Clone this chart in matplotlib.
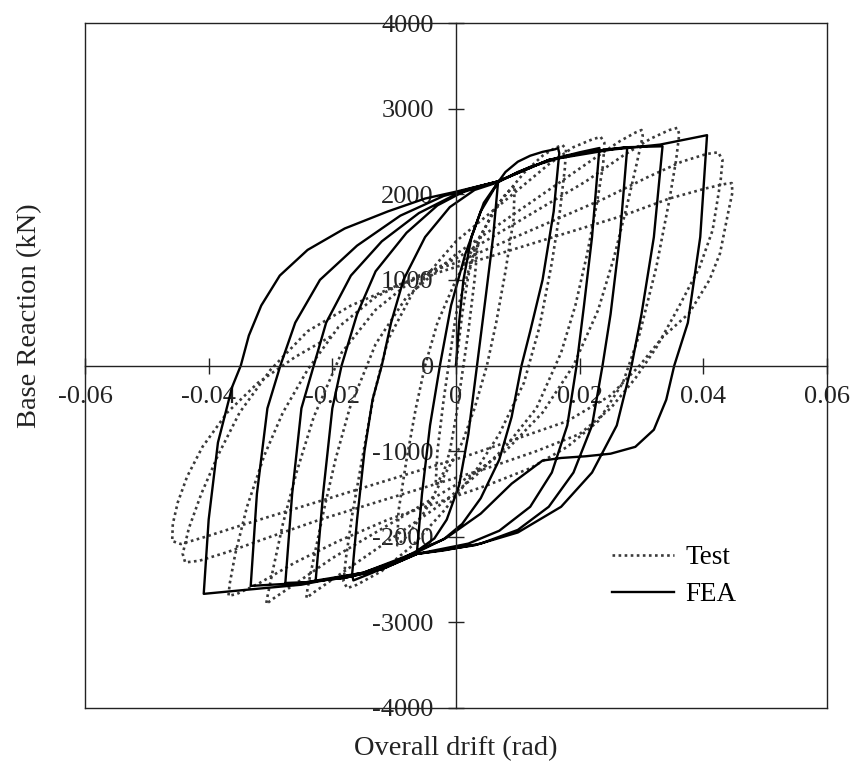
import numpy as np
import matplotlib.pyplot as plt

plt.rcParams['font.family'] = ['Liberation Serif', 'DejaVu Serif']
plt.rcParams['axes.unicode_minus'] = False

# FEA hysteresis, one list per half cycle (drift rad, base reaction kN)
fea_drift = [
    [0, 0.0005, 0.0012, 0.0025, 0.0045, 0.0068],
    [0.0068, 0.0060, 0.0048, 0.0034, 0.0020, 0.0005, -0.0015, -0.0035, -0.0063],
    [-0.0063, -0.0055, -0.0042, -0.0026, -0.0008, 0.0015, 0.0040, 0.0068, 0.0080,
     0.0100, 0.0120, 0.0140, 0.0160, 0.0165],
    [0.0165, 0.0167, 0.0158, 0.0140, 0.0120, 0.0106, 0.0090, 0.0070, 0.0040, 0.0010,
     -0.0020, -0.0063, -0.0100, -0.0135, -0.0166],
    [-0.0166, -0.0168, -0.0160, -0.0148, -0.0135, -0.0120, -0.0105, -0.0085, -0.0050,
     -0.0010, 0.0030, 0.0068, 0.0100, 0.0150, 0.0200, 0.0232],
    [0.0232, 0.0220, 0.0207, 0.0195, 0.0180, 0.0155, 0.0120, 0.0070, 0.0020, -0.0063,
     -0.0120, -0.0180, -0.0227],
    [-0.0227, -0.0215, -0.0200, -0.0185, -0.0160, -0.0130, -0.0080, -0.0030, 0.0020,
     0.0068, 0.0120, 0.0180, 0.0240, 0.0277],
    [0.0277, 0.0265, 0.0250, 0.0237, 0.0220, 0.0190, 0.0150, 0.0100, 0.0040, -0.0020,
     -0.0063, -0.0120, -0.0180, -0.0240, -0.0276],
    [-0.0276, -0.0265, -0.0250, -0.0230, -0.0210, -0.0170, -0.0120, -0.0060, 0.0000,
     0.0068, 0.0150, 0.0220, 0.0280, 0.0334],
    [0.0334, 0.0320, 0.0300, 0.0284, 0.0260, 0.0220, 0.0170, 0.0100, 0.0030, -0.0063,
     -0.0150, -0.0250, -0.0332],
    [-0.0332, -0.0322, -0.0305, -0.0284, -0.0260, -0.0220, -0.0160, -0.0090, -0.0020,
     0.0068, 0.0150, 0.0250, 0.0330, 0.0406],
    [0.0406, 0.0395, 0.0375, 0.0353, 0.0340, 0.0320, 0.0290, 0.0250, 0.0210, 0.0170,
     0.0140, 0.0090, 0.0040, -0.0015, -0.0060, -0.0150, -0.0250, -0.0340, -0.0408],
    [-0.0408, -0.0400, -0.0385, -0.0362, -0.0348, -0.0335, -0.0315, -0.0285, -0.0240,
     -0.0180, -0.0110, -0.0050, 0.0000, 0.0068],
]
fea_force = [
    [0, 500, 1000, 1500, 1900, 2140],
    [2140, 1500, 800, 0, -800, -1400, -1800, -2020, -2165],
    [-2165, -1500, -700, 0, 700, 1300, 1800, 2140, 2260,
     2380, 2450, 2495, 2525, 2540],
    [2540, 2480, 1800, 1000, 400, 0, -600, -1100, -1550, -1850,
     -2030, -2165, -2300, -2420, -2510],
    [-2510, -2440, -1800, -1000, -400, 0, 500, 1000, 1500,
     1850, 2050, 2140, 2260, 2400, 2490, 2540],
    [2540, 1500, 700, 0, -700, -1250, -1650, -1930, -2080, -2200,
     -2380, -2480, -2515],
    [-2515, -1500, -500, 0, 600, 1100, 1550, 1870, 2060,
     2150, 2320, 2450, 2520, 2550],
    [2550, 1500, 600, 0, -700, -1250, -1650, -1920, -2080, -2160,
     -2200, -2380, -2480, -2530, -2540],
    [-2540, -1500, -500, 0, 500, 1050, 1450, 1780, 2000,
     2150, 2400, 2500, 2550, 2560],
    [2560, 1500, 600, 0, -700, -1250, -1650, -1950, -2100, -2200,
     -2420, -2540, -2574],
    [-2574, -1500, -500, 0, 500, 1000, 1400, 1750, 1980,
     2150, 2400, 2520, 2580, 2690],
    [2690, 1500, 500, 0, -400, -750, -950, -1030, -1060, -1080,
     -1110, -1380, -1730, -2010, -2170, -2420, -2560, -2620, -2667],
    [-2667, -1800, -900, -250, 0, 350, 700, 1050, 1350,
     1600, 1800, 1950, 2030, 2150],
]

# Test hysteresis (dotted)
test_drift = [
    [0, 0.0010, 0.0020, 0.0030, 0.0035, 0.0030, 0.0020, 0.0010, 0.0000, -0.0010,
     -0.0020, -0.0033, -0.0030, -0.0020, -0.0010, 0.0000],
    [0.0000, 0.0020, 0.0040, 0.0060, 0.0080, 0.0095, 0.0093, 0.0080, 0.0065, 0.0050,
     0.0030, 0.0010, -0.0020, -0.0050, -0.0080, -0.0095, -0.0093, -0.0080, -0.0065,
     -0.0050, -0.0030, 0.0000],
    [0.0000, 0.0030, 0.0070, 0.0110, 0.0140, 0.0160, 0.0172, 0.0178, 0.0176, 0.0168,
     0.0155, 0.0135, 0.0110, 0.0070, 0.0030, -0.0020, -0.0070, -0.0120, -0.0160,
     -0.0176, -0.0182, -0.0178, -0.0168, -0.0152, -0.0133, -0.0110, -0.0070, -0.0030,
     0.0000],
    [0.0000, 0.0050, 0.0100, 0.0150, 0.0190, 0.0220, 0.0234, 0.0240, 0.0238, 0.0228,
     0.0212, 0.0193, 0.0170, 0.0130, 0.0080, 0.0030, -0.0030, -0.0090, -0.0150,
     -0.0200, -0.0230, -0.0242, -0.0240, -0.0230, -0.0214, -0.0195, -0.0172, -0.0130,
     -0.0080, 0.0000],
    [0.0000, 0.0060, 0.0120, 0.0180, 0.0230, 0.0265, 0.0290, 0.0300, 0.0302, 0.0292,
     0.0276, 0.0255, 0.0230, 0.0190, 0.0140, 0.0080, 0.0010, -0.0060, -0.0130,
     -0.0200, -0.0260, -0.0295, -0.0307, -0.0305, -0.0295, -0.0280, -0.0258, -0.0230,
     -0.0185, -0.0130, -0.0070, 0.0000],
    [0.0000, 0.0070, 0.0140, 0.0210, 0.0270, 0.0315, 0.0345, 0.0358, 0.0361, 0.0356,
     0.0345, 0.0324, 0.0297, 0.0270, 0.0230, 0.0180, 0.0120, 0.0050, -0.0030,
     -0.0110, -0.0190, -0.0260, -0.0320, -0.0355, -0.0368, -0.0366, -0.0357, -0.0338,
     -0.0310, -0.0280, -0.0240, -0.0190, -0.0130, -0.0060, 0.0000],
    [0.0000, 0.0080, 0.0160, 0.0240, 0.0310, 0.0365, 0.0405, 0.0424, 0.0431, 0.0428,
     0.0415, 0.0394, 0.0360, 0.0324, 0.0290, 0.0250, 0.0200, 0.0130, 0.0050,
     -0.0040, -0.0130, -0.0220, -0.0300, -0.0370, -0.0415, -0.0438, -0.0442, -0.0432,
     -0.0412, -0.0385, -0.0350, -0.0300, -0.0240, -0.0170, -0.0090, 0.0000],
    [0.0000, 0.0090, 0.0180, 0.0270, 0.0345, 0.0405, 0.0435, 0.0446, 0.0447, 0.0440,
     0.0427, 0.0410, 0.0377, 0.0334, 0.0297, 0.0250, 0.0180, 0.0100, 0.0020,
     -0.0070, -0.0160, -0.0250, -0.0340, -0.0405, -0.0445, -0.0459, -0.0458, -0.0450,
     -0.0435, -0.0410, -0.0370, -0.0320, -0.0260, -0.0200],
]
test_force = [
    [0, 600, 1050, 1350, 1400, 1000, 400, -100, -600, -1000,
     -1250, -1400, -1000, -400, 100, 600],
    [600, 1100, 1500, 1800, 2000, 2100, 1700, 1100, 500, 0,
     -500, -900, -1300, -1700, -2000, -2100, -1700, -1100, -500,
     0, 500, 1000],
    [1000, 1400, 1900, 2250, 2450, 2540, 2575, 2530, 2300, 1800,
     1200, 450, -200, -800, -1250, -1700, -2100, -2400, -2560,
     -2600, -2520, -2250, -1750, -1100, -350, 300, 850, 1200,
     1450],
    [1450, 1750, 2050, 2350, 2550, 2640, 2670, 2600, 2350, 1900,
     1300, 700, 150, -500, -950, -1300, -1650, -1950, -2250,
     -2500, -2650, -2715, -2600, -2250, -1700, -1100, -500, 250,
     800, 1300],
    [1300, 1600, 1900, 2200, 2450, 2620, 2720, 2750, 2680, 2350,
     1850, 1250, 650, 0, -550, -1000, -1350, -1650, -1950,
     -2250, -2550, -2720, -2785, -2700, -2350, -1850, -1250, -600,
     150, 650, 1000, 1250],
    [1250, 1550, 1850, 2150, 2450, 2650, 2750, 2775, 2700, 2400,
     1930, 1150, 370, -200, -650, -950, -1200, -1400, -1600,
     -1800, -2050, -2300, -2550, -2670, -2690, -2550, -2200, -1650,
     -1050, -550, -50, 450, 800, 1050, 1200],
    [1200, 1450, 1700, 1950, 2200, 2380, 2470, 2490, 2400, 2160,
     1580, 1150, 680, 210, -150, -500, -800, -1000, -1200,
     -1400, -1600, -1800, -2000, -2180, -2280, -2300, -2200, -1900,
     -1500, -1050, -550, -50, 400, 700, 950, 1150],
    [1150, 1350, 1550, 1750, 1950, 2070, 2120, 2130, 2020, 1780,
     1310, 1000, 610, 330, 0, -350, -650, -850, -1050,
     -1250, -1450, -1650, -1850, -2000, -2085, -2050, -1850, -1600,
     -1300, -950, -550, -200, 100, 350],
]

x_ticks = [-0.06, -0.04, -0.02, 0, 0.02, 0.04, 0.06]
x_labels = ['-0.06', '-0.04', '-0.02', '0', '0.02', '0.04', '0.06']
y_ticks = [-4000, -3000, -2000, -1000, 0, 1000, 2000, 3000, 4000]
y_labels = ['-4000', '-3000', '-2000', '-1000', '0', '1000', '2000', '3000', '4000']

fig = plt.figure(figsize=(8.55, 7.64), dpi=100)
ax = fig.add_axes([85 / 855, 1 - 708 / 764, 742 / 855, 685 / 764])

tx = np.concatenate([np.array(s) for s in test_drift])
ty = np.concatenate([np.array(s) for s in test_force])
fx = np.concatenate([np.array(s) for s in fea_drift])
fy = np.concatenate([np.array(s) for s in fea_force])

ax.plot(tx, ty, color='#3a3a3a', lw=1.9, linestyle=(0, (1, 1.3)), label='Test')
ax.plot(fx, fy, color='black', lw=1.7, label='FEA')

ax.set_xlim(-0.06, 0.06)
ax.set_ylim(-4000, 4000)

ax.spines['left'].set_position(('data', 0))
ax.spines['bottom'].set_position(('data', 0))
for s in ax.spines.values():
    s.set_linewidth(1.0)
    s.set_color('#222222')
# outer box edges
ax.plot([0, 0], [0, 1], transform=ax.transAxes, color='#222222', lw=1.0, clip_on=False)
ax.plot([0, 1], [0, 0], transform=ax.transAxes, color='#222222', lw=1.0, clip_on=False)

ax.set_xticks(x_ticks)
ax.set_xticklabels(x_labels)
ax.set_yticks(y_ticks)
ax.set_yticklabels(y_labels)
ax.tick_params(axis='both', direction='inout', length=12, width=1.0, color='#222222',
               labelsize=19, labelcolor='#222222')
ax.tick_params(axis='x', pad=9)
ax.tick_params(axis='y', pad=10)

fig.text(456 / 855, 1 - 749 / 764, 'Overall drift (rad)', ha='center', va='center',
         fontsize=20.5, color='#222222')
fig.text(30 / 855, 1 - 316 / 764, 'Base Reaction (kN)', ha='center', va='center',
         rotation=90, fontsize=20.5, color='#222222')

ax.legend(loc='upper left', bbox_to_anchor=(612 / 855, 1 - 545 / 764),
          bbox_transform=fig.transFigure, frameon=False, fontsize=19.5,
          handlelength=2.3, handletextpad=0.4, labelspacing=0.45,
          borderpad=0, borderaxespad=0)

fig.savefig('out.png', dpi=100)
